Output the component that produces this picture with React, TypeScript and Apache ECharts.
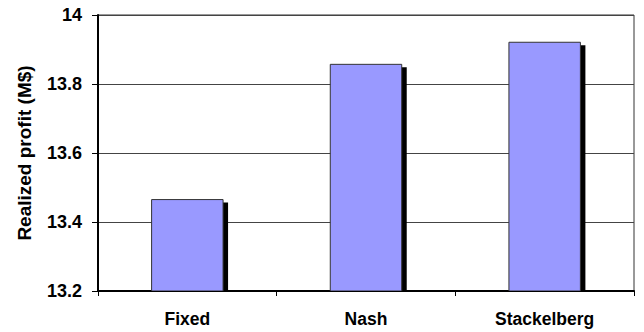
import React, { useEffect, useRef } from "react";
import * as echarts from "echarts";

// Realized profit per pricing scheme
const categories: string[] = ["Fixed", "Nash", "Stackelberg"];
const profits: number[] = [13.465, 13.857, 13.921];

const yMin = 13.2;
const yMax = 14;
const yStep = 0.2;

const FONT = "'Liberation Sans', Arial, sans-serif";

export default function App() {
  const ref = useRef<HTMLDivElement>(null);

  useEffect(() => {
    if (!ref.current) return;
    const chart = echarts.init(ref.current, null, { renderer: "svg" });

    const data = profits.map((v, i) => [i, v]);

    chart.setOption({
      animation: false,
      backgroundColor: "#ffffff",
      grid: {
        left: 98,
        top: 15,
        right: 10,
        bottom: 41,
        show: true,
        borderColor: "#333333",
        borderWidth: 1,
        backgroundColor: "transparent",
      },
      xAxis: {
        type: "category",
        data: categories,
        boundaryGap: true,
        axisLine: { show: true, lineStyle: { color: "#000000", width: 2 } },
        axisTick: { show: true, length: 5, lineStyle: { color: "#000000", width: 1 } },
        axisLabel: {
          color: "#000000",
          fontFamily: FONT,
          fontWeight: "bold",
          fontSize: 17.5,
          margin: 19,
        },
        splitLine: { show: false },
      },
      yAxis: {
        type: "value",
        min: yMin,
        max: yMax,
        interval: yStep,
        name: "Realized profit (M$)",
        nameLocation: "middle",
        nameGap: 64,
        nameTextStyle: {
          color: "#000000",
          fontFamily: FONT,
          fontWeight: "bold",
          fontSize: 19,
        },
        axisLine: { show: true, lineStyle: { color: "#000000", width: 2 } },
        axisTick: { show: true, length: 6, lineStyle: { color: "#000000", width: 1 } },
        axisLabel: {
          color: "#000000",
          fontFamily: FONT,
          fontWeight: "bold",
          fontSize: 18,
          margin: 16,
          formatter: (v: number) => String(Math.round(v * 10) / 10),
        },
        splitLine: { show: true, lineStyle: { color: "#444444", width: 1 } },
      },
      series: [
        {
          type: "custom",
          data,
          encode: { x: 0, y: 1 },
          clip: true,
          renderItem: (params: any, api: any) => {
            const idx = api.value(0);
            const val = api.value(1);
            const top = api.coord([idx, val]);
            const base = api.coord([idx, yMin]);
            const band = api.size([1, 0])[0];
            const w = band * 0.4;
            const x = top[0] - w / 2;
            const h = base[1] - top[1];
            const dx = 5;
            const dy = 3;
            return {
              type: "group",
              children: [
                {
                  type: "rect",
                  shape: { x: x + dx, y: top[1] + dy, width: w, height: h - dy },
                  style: { fill: "#000000" },
                },
                {
                  type: "rect",
                  shape: { x, y: top[1], width: w, height: h },
                  style: { fill: "#9999ff", stroke: "#333333", lineWidth: 1 },
                },
              ],
            };
          },
        },
      ],
    });

    return () => chart.dispose();
  }, []);

  return (
    <div
      ref={ref}
      style={{ position: "absolute", left: 0, top: 0, width: 644, height: 332 }}
    />
  );
}
